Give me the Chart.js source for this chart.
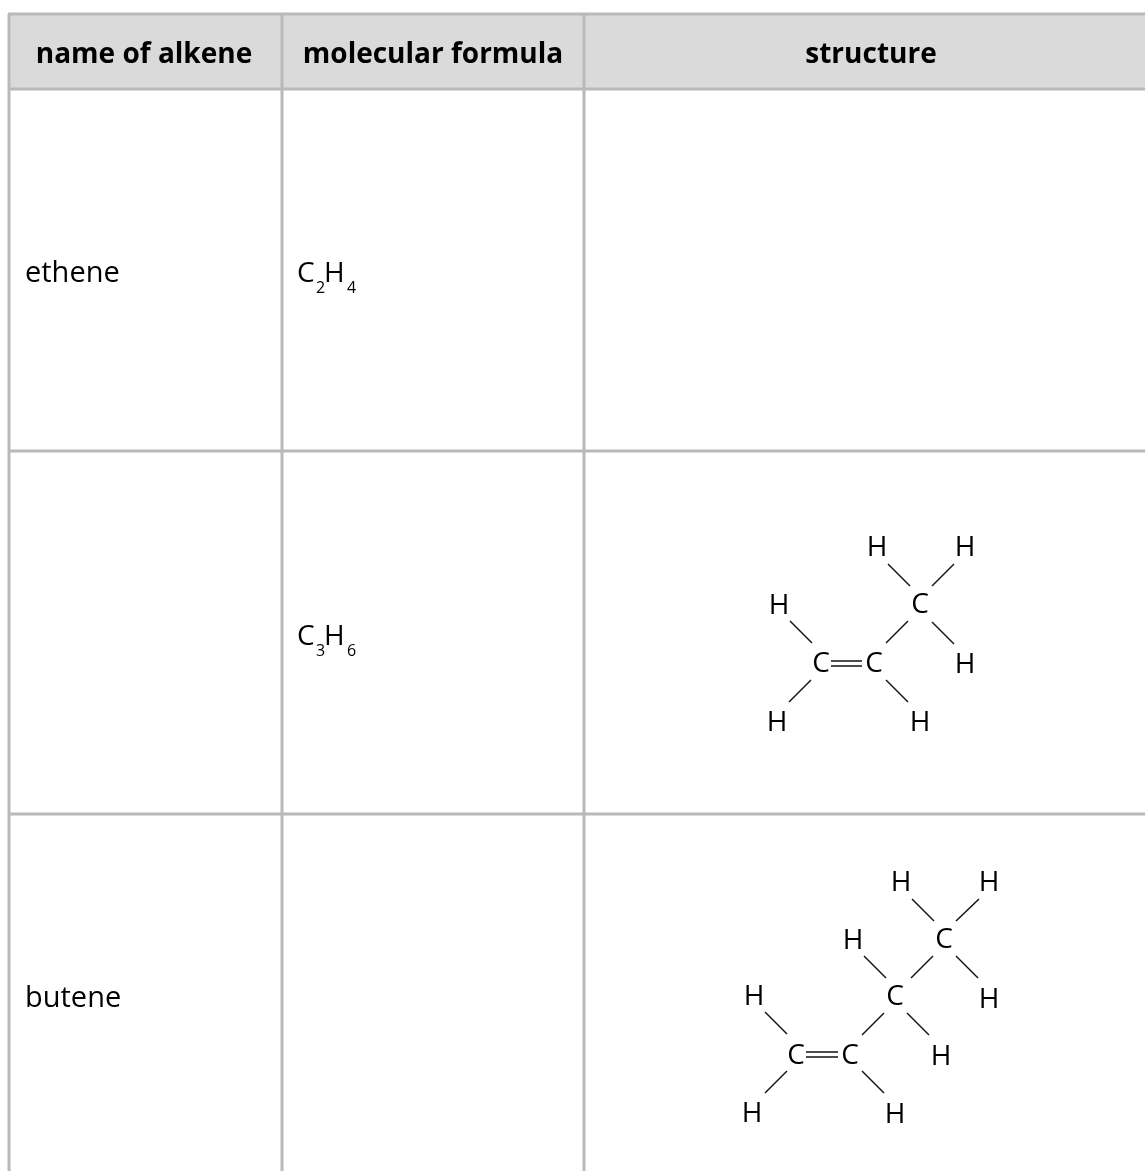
<!DOCTYPE html>
<html>
<head>
<meta charset="utf-8">
<title>alkenes</title>
<style>
  html, body { margin: 0; padding: 0; background: #fff; overflow: hidden; }
  canvas { display: block; }
</style>
<script src="https://cdn.jsdelivr.net/npm/chart.js@4"></script>
</head>
<body>
<canvas id="tableChart" width="1145" height="1171"></canvas>
<script>
// table text
const headers = ['name of alkene', 'molecular formula', 'structure'];
const headerCentres = [144, 433, 871];
const rowNames = [['ethene', 282], ['butene', 1007]];
// [C count, H count, x, baseline]
const formulas = [['2', '4', 298, 282], ['3', '6', 298, 645]];

// table rules
const columnRules = [9, 282, 584];
const rowRules = [14, 89, 451, 814];

// propene
const propeneAtoms = [
  ['H', 877, 547], ['H', 965, 547], ['C', 920, 604], ['H', 779, 605], ['C', 821, 663],
  ['C', 874, 663], ['H', 965, 664], ['H', 777, 722], ['H', 920, 722]
];
const propeneBonds = [
  [888, 564, 910, 586], [954, 564, 932, 586], [790, 621, 812, 643], [908, 621, 886, 643],
  [932, 622, 954, 644], [811, 680, 789, 702], [886, 680, 908, 702],
  [831, 661, 862, 661], [831, 666, 862, 666]
];

// butene
const buteneAtoms = [
  ['H', 901, 882], ['H', 989, 882], ['C', 944, 939], ['H', 853, 940], ['H', 989, 999],
  ['C', 895, 996], ['H', 754, 996], ['C', 796, 1055], ['C', 850, 1055], ['H', 941, 1056],
  ['H', 752, 1113], ['H', 895, 1114]
];
const buteneBonds = [
  [912, 899, 934, 921], [979, 899, 956, 921], [864, 956, 886, 978], [933, 956, 911, 978],
  [956, 956, 978, 978], [765, 1012, 787, 1034], [884, 1013, 862, 1035], [907, 1013, 929, 1035],
  [787, 1071, 765, 1093], [862, 1071, 884, 1093],
  [806, 1052, 838, 1052], [806, 1057, 838, 1057]
];

const FONT = '"Open Sans"';

function segment(x1, y1, x2, y2, color, width) {
  return {
    data: [{ x: x1, y: y1 }, { x: x2, y: y2 }],
    showLine: true,
    borderColor: color,
    borderWidth: width,
    pointRadius: 0
  };
}

const datasets = [];
columnRules.forEach(x => datasets.push(segment(x, 14, x, 1171, '#b9b9b9', 3)));
rowRules.forEach(y => datasets.push(segment(8, y, 1145, y, '#b9b9b9', 3)));
propeneBonds.concat(buteneBonds).forEach(b => datasets.push(segment(b[0], b[1], b[2], b[3], '#111', 1.5)));

const tablePlugin = {
  id: 'tableText',
  beforeDatasetsDraw(chart) {
    const { ctx, scales: { x, y } } = chart;
    ctx.save();
    ctx.fillStyle = '#dadada';
    ctx.fillRect(x.getPixelForValue(9), y.getPixelForValue(14), x.getPixelForValue(1145) - x.getPixelForValue(9), y.getPixelForValue(89) - y.getPixelForValue(14));
    ctx.restore();
  },
  afterDatasetsDraw(chart) {
    const { ctx, scales: { x, y } } = chart;
    ctx.save();
    ctx.fillStyle = '#000';
    ctx.textBaseline = 'alphabetic';

    // header row
    ctx.textAlign = 'center';
    ctx.font = 'bold 28px ' + FONT;
    headers.forEach((h, i) => ctx.fillText(h, x.getPixelForValue(headerCentres[i]), y.getPixelForValue(63)));

    // first column
    ctx.textAlign = 'left';
    ctx.font = '29px ' + FONT;
    rowNames.forEach(r => ctx.fillText(r[0], x.getPixelForValue(25), y.getPixelForValue(r[1])));

    // formulas with subscripts
    formulas.forEach(f => {
      const left = x.getPixelForValue(f[2]);
      const base = y.getPixelForValue(f[3]);
      ctx.font = '28px ' + FONT;
      ctx.fillText('C', left - 1, base);
      ctx.fillText('H', left + 26, base);
      ctx.font = '16px ' + FONT;
      ctx.fillText(f[0], left + 18, base + 11);
      ctx.fillText(f[1], left + 49, base + 11);
    });

    // atoms
    ctx.textAlign = 'center';
    ctx.textBaseline = 'middle';
    ctx.font = '28px ' + FONT;
    propeneAtoms.concat(buteneAtoms).forEach(a => {
      ctx.fillText(a[0], x.getPixelForValue(a[1]), y.getPixelForValue(a[2]) + 1);
    });
    ctx.restore();
  }
};

new Chart(document.getElementById('tableChart'), {
  type: 'scatter',
  data: { datasets },
  options: {
    responsive: false,
    animation: false,
    layout: { padding: 0 },
    plugins: { legend: { display: false }, tooltip: { enabled: false } },
    scales: {
      x: { type: 'linear', min: 0, max: 1145, display: false },
      y: { type: 'linear', min: 0, max: 1171, reverse: true, display: false }
    }
  },
  plugins: [tablePlugin]
});
</script>
</body>
</html>
